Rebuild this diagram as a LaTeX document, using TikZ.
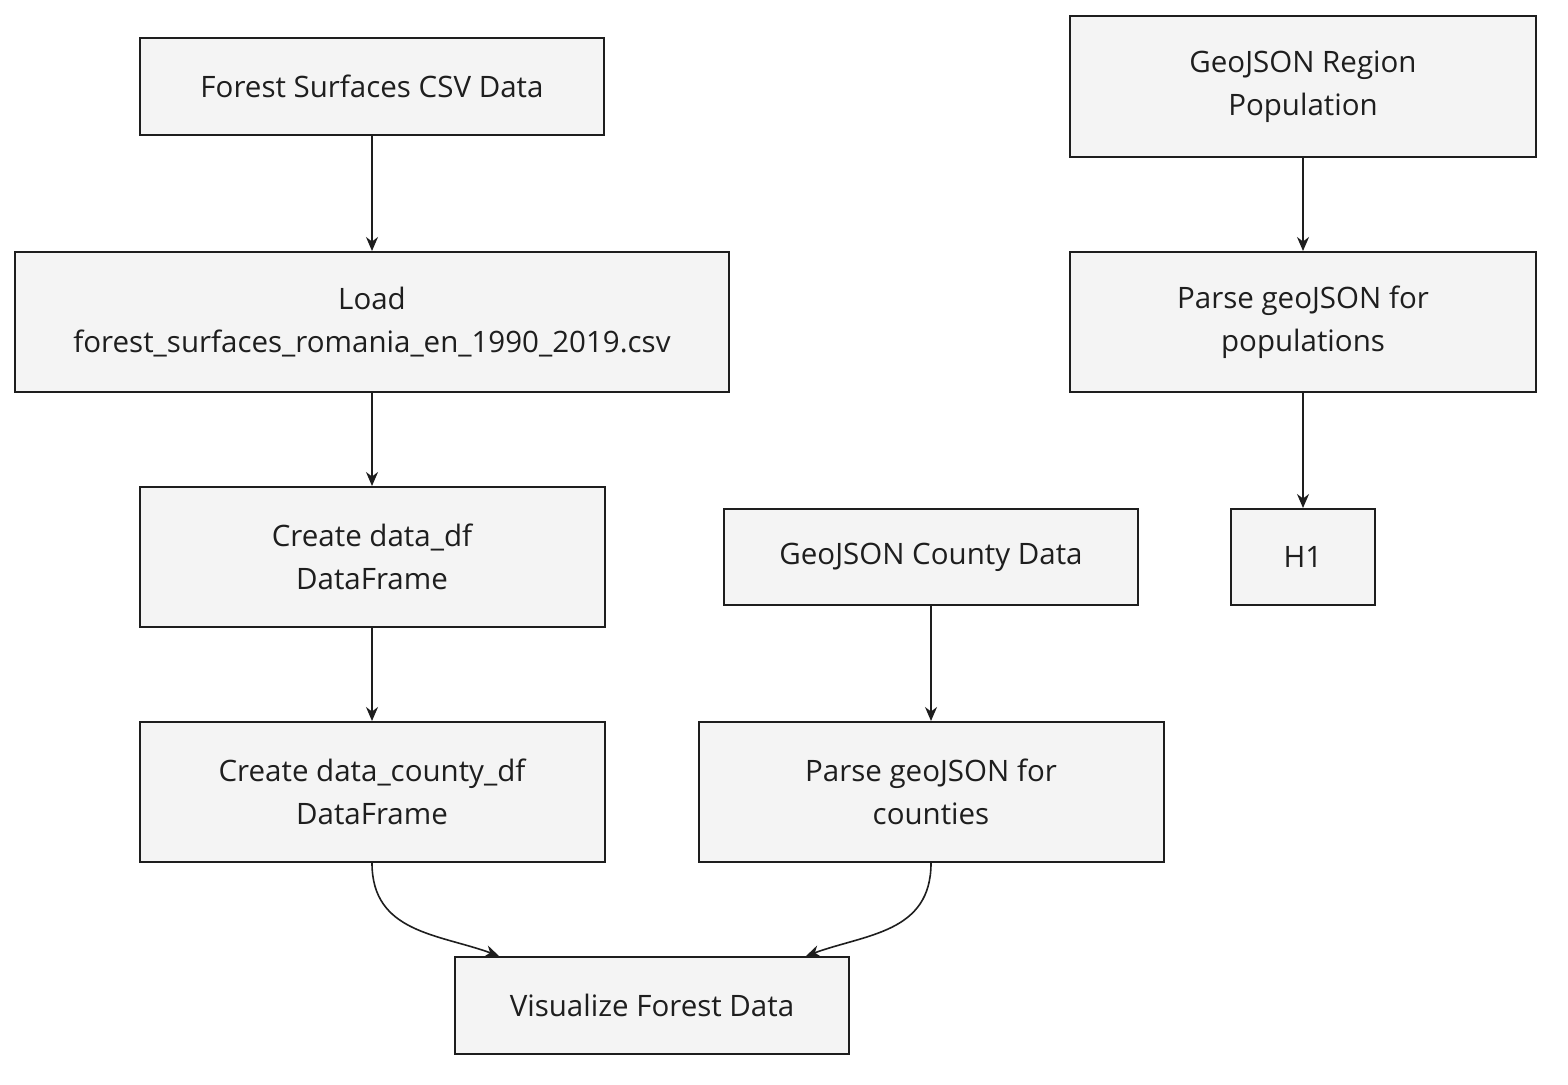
\documentclass[tikz,border=0pt]{standalone}
\usepackage{fontspec}
\setmainfont{Open Sans}
\usetikzlibrary{arrows.meta}
\definecolor{boxfill}{HTML}{F4F4F4}
\definecolor{ink}{HTML}{1E1E1E}
\tikzset{
  box/.style={draw=ink, line width=2pt, fill=boxfill, align=center, inner sep=0pt,
    font=\fontsize{29.5}{43}\selectfont, text=ink},
  conn/.style={draw=ink, line width=1.6pt, -{Stealth[length=14pt,width=12pt]}},
}
\begin{document}
\begin{tikzpicture}[x=1pt,y=-1pt]
\useasboundingbox (0,0) rectangle (1568,1084);
\node[box, minimum width=464pt, minimum height=97pt] (csv) at (372,86.5) {Forest Surfaces CSV Data};
\node[box, minimum width=714pt, minimum height=140pt] (load) at (372,322) {Load\\forest\_surfaces\_romania\_en\_1990\_2019.csv};
\node[box, minimum width=465pt, minimum height=140pt] (ddf) at (372,557) {Create data\_df\\DataFrame};
\node[box, minimum width=465pt, minimum height=140pt] (dcdf) at (372,792) {Create data\_county\_df\\DataFrame};
\node[box, minimum width=394pt, minimum height=97pt] (vis) at (652,1005.5) {Visualize Forest Data};
\node[box, minimum width=414pt, minimum height=96pt] (gcd) at (931,557) {GeoJSON County Data};
\node[box, minimum width=465pt, minimum height=140pt] (pgc) at (931,792) {Parse geoJSON for\\counties};
\node[box, minimum width=466pt, minimum height=141pt] (grp) at (1303,86.5) {GeoJSON Region\\Population};
\node[box, minimum width=466pt, minimum height=140pt] (pgp) at (1303,322) {Parse geoJSON for\\populations};
\node[box, minimum width=144pt, minimum height=96pt] (h1) at (1303,557) {H1};
\draw[conn] (csv) -- (load);
\draw[conn] (load) -- (ddf);
\draw[conn] (ddf) -- (dcdf);
\draw[conn] (gcd) -- (pgc);
\draw[conn] (grp) -- (pgp);
\draw[conn] (pgp) -- (h1);
\draw[conn] (dcdf.south) .. controls +(0,70) and +(-60,-22) .. ([xshift=45pt]vis.north west);
\draw[conn] (pgc.south) .. controls +(0,70) and +(60,-22) .. ([xshift=-44pt]vis.north east);
\end{tikzpicture}
\end{document}
